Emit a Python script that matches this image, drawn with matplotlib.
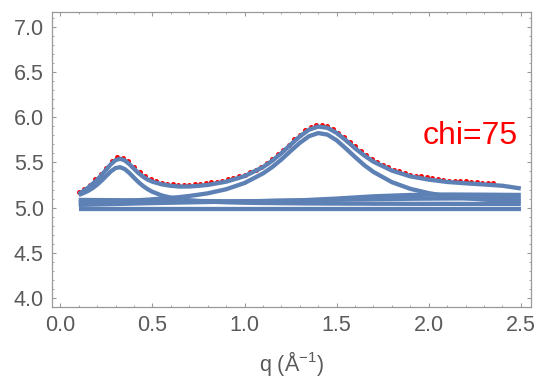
#!/usr/bin/env python3
"""Peak fit of the chi=75 scattering profile: data points, total fit and components."""

import matplotlib

matplotlib.use("Agg")
import matplotlib.pyplot as plt
from matplotlib.ticker import FormatStrFormatter, MultipleLocator

plt.rcParams["font.family"] = ["Liberation Sans", "DejaVu Sans"]
plt.rcParams["mathtext.default"] = "regular"

FIT_BLUE = "#5E81B5"
AXIS_GRAY = "#9a9a9a"
LABEL_GRAY = "#5a5a5a"

# measured intensity (red points)
q_data = [
    0.10, 0.13, 0.16, 0.19, 0.22, 0.25, 0.28, 0.31, 0.34, 0.37,
    0.40, 0.43, 0.46, 0.49, 0.52, 0.55, 0.58, 0.61, 0.64, 0.67,
    0.70, 0.73, 0.76, 0.79, 0.82, 0.85, 0.88, 0.91, 0.94, 0.97,
    1.00, 1.03, 1.06, 1.09, 1.12, 1.15, 1.18, 1.21, 1.24, 1.27,
    1.30, 1.33, 1.36, 1.39, 1.42, 1.45, 1.48, 1.51, 1.54, 1.57,
    1.60, 1.63, 1.66, 1.69, 1.72, 1.75, 1.78, 1.81, 1.84, 1.87,
    1.90, 1.93, 1.96, 1.99, 2.02, 2.05, 2.08, 2.11, 2.14, 2.17,
    2.20, 2.23, 2.26, 2.29, 2.32, 2.35,
]
i_data = [
    5.170, 5.210, 5.255, 5.315, 5.370, 5.440, 5.515, 5.560, 5.550, 5.515,
    5.450, 5.395, 5.345, 5.315, 5.295, 5.275, 5.265, 5.260, 5.255, 5.250,
    5.255, 5.260, 5.260, 5.270, 5.280, 5.285, 5.300, 5.315, 5.325, 5.350,
    5.365, 5.395, 5.420, 5.455, 5.495, 5.535, 5.590, 5.640, 5.695, 5.755,
    5.805, 5.860, 5.890, 5.915, 5.915, 5.905, 5.875, 5.830, 5.785, 5.730,
    5.680, 5.625, 5.585, 5.540, 5.505, 5.475, 5.445, 5.420, 5.400, 5.385,
    5.365, 5.355, 5.345, 5.335, 5.325, 5.315, 5.310, 5.300, 5.295, 5.295,
    5.290, 5.285, 5.280, 5.275, 5.275, 5.270,
]

# fitted curves sampled along q
q_curve = [
    0.100, 0.125, 0.150, 0.175, 0.200, 0.225, 0.250, 0.275, 0.300, 0.325,
    0.350, 0.375, 0.400, 0.425, 0.450, 0.475, 0.500, 0.550, 0.600, 0.650,
    0.700, 0.750, 0.800, 0.900, 1.000, 1.100, 1.150, 1.200, 1.250, 1.300,
    1.350, 1.400, 1.450, 1.500, 1.550, 1.600, 1.650, 1.700, 1.800, 1.900,
    2.000, 2.100, 2.200, 2.300, 2.400, 2.500,
]
fit_total = [
    5.151, 5.183, 5.219, 5.263, 5.309, 5.363, 5.423, 5.481, 5.525, 5.541,
    5.522, 5.481, 5.430, 5.381, 5.341, 5.310, 5.287, 5.258, 5.241, 5.233,
    5.234, 5.241, 5.251, 5.287, 5.348, 5.448, 5.518, 5.602, 5.696, 5.788,
    5.862, 5.897, 5.883, 5.827, 5.746, 5.657, 5.577, 5.508, 5.410, 5.346,
    5.310, 5.284, 5.269, 5.256, 5.242, 5.212,
]
fit_peak1 = [
    5.140, 5.160, 5.184, 5.215, 5.254, 5.300, 5.352, 5.402, 5.438, 5.447,
    5.426, 5.383, 5.331, 5.281, 5.238, 5.203, 5.175, 5.135, 5.110, 5.093,
    5.081, 5.073, 5.067, 5.059, 5.054, 5.051, 5.050, 5.049, 5.048, 5.047,
    5.046, 5.046, 5.045, 5.045, 5.044, 5.044, 5.044, 5.043, 5.043, 5.042,
    5.042, 5.042, 5.041, 5.041, 5.041, 5.041,
]
fit_peak2 = [
    5.056, 5.058, 5.059, 5.061, 5.062, 5.064, 5.066, 5.068, 5.070, 5.072,
    5.074, 5.077, 5.079, 5.082, 5.085, 5.088, 5.092, 5.100, 5.108, 5.117,
    5.129, 5.143, 5.158, 5.203, 5.272, 5.378, 5.448, 5.532, 5.626, 5.716,
    5.790, 5.825, 5.808, 5.745, 5.655, 5.560, 5.470, 5.395, 5.282, 5.208,
    5.160, 5.127, 5.105, 5.089, 5.077, 5.068,
]

# broad background terms
q_base = [0.1, 0.3, 0.5, 0.7, 0.9, 1.1, 1.3, 1.5, 1.7, 1.9, 2.1, 2.3, 2.5]
fit_hump = [5.085, 5.082, 5.078, 5.074, 5.070, 5.072, 5.080, 5.100, 5.125, 5.140, 5.145, 5.143, 5.140]
fit_slope = [5.030, 5.040, 5.050, 5.058, 5.066, 5.073, 5.080, 5.087, 5.093, 5.098, 5.101, 5.103, 5.105]
fit_flat = [4.985, 4.985, 4.985, 4.985, 4.985, 4.985, 4.985, 4.985, 4.985, 4.985, 4.985, 4.985, 4.985]


def main() -> None:
    fig = plt.figure(figsize=(5.43, 3.83), dpi=100)
    ax = fig.add_axes([0.0958, 0.1984, 0.8820, 0.7703])

    ax.plot(q_data, i_data, linestyle="none", marker="o", markersize=3.6,
            color="red", markeredgewidth=0, zorder=2)

    for q, values in (
        (q_base, fit_flat),
        (q_base, fit_slope),
        (q_base, fit_hump),
        (q_curve, fit_peak1),
        (q_curve, fit_peak2),
        (q_curve, fit_total),
    ):
        ax.plot(q, values, color=FIT_BLUE, linewidth=3.1,
                solid_capstyle="butt", solid_joinstyle="round", zorder=3)

    ax.text(2.225, 5.79, "chi=75", color="red", fontsize=23,
            ha="center", va="center")

    ax.set_xlim(-0.045, 2.555)
    ax.set_ylim(3.90, 7.165)
    ax.xaxis.set_major_locator(MultipleLocator(0.5))
    ax.xaxis.set_minor_locator(MultipleLocator(0.1))
    ax.yaxis.set_major_locator(MultipleLocator(0.5))
    ax.yaxis.set_minor_locator(MultipleLocator(0.1))
    ax.xaxis.set_major_formatter(FormatStrFormatter("%.1f"))
    ax.yaxis.set_major_formatter(FormatStrFormatter("%.1f"))

    ax.tick_params(which="both", direction="in", top=True, right=True,
                   color=AXIS_GRAY, labelcolor=LABEL_GRAY, labelsize=15.5)
    ax.tick_params(which="major", length=3.0, width=0.8, pad=6)
    ax.tick_params(which="minor", length=1.7, width=0.6)
    for spine in ax.spines.values():
        spine.set_color(AXIS_GRAY)
        spine.set_linewidth(0.9)

    ax.set_xlabel(r"q (Å$^{-1}$)", color=LABEL_GRAY, fontsize=15.5, labelpad=9)

    fig.savefig("out.png", dpi=100)
    plt.close(fig)


if __name__ == "__main__":
    main()
